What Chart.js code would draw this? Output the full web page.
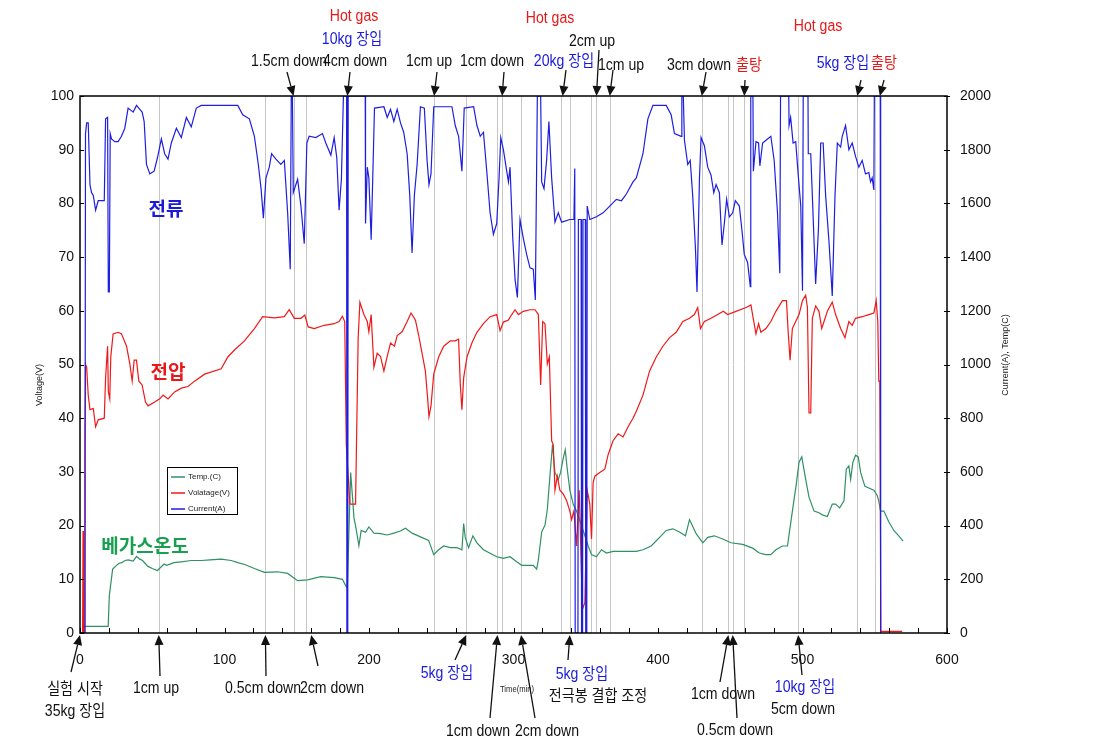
<!DOCTYPE html>
<html>
<head>
<meta charset="utf-8">
<script src="https://cdn.jsdelivr.net/npm/chart.js@4.4.1/dist/chart.umd.min.js"></script>
<style>
  html, body { margin: 0; padding: 0; background: #fff; }
  #wrap { width: 1107px; height: 753px; position: relative; }
</style>
</head>
<body>
<div id="wrap"><canvas id="chart-lines"></canvas></div>
<script>
// series: time in minutes

var currentTime = [0, 3.4, 3.8, 4.6, 5.7, 6.9, 8, 9.2, 10.8, 12.6, 16.8, 17.7, 19.1, 19.6, 20.3, 20.9, 21.8, 24.1, 26.4, 28.7, 31, 33.3, 36.8, 39.1, 41.4, 43, 44.4, 46, 48.3, 51.3, 53.6, 56.3, 58.6, 60.9, 63.2, 66.7, 70.1, 73.6, 77, 80.5, 83.9, 109.2, 112.6, 117.2, 120.7, 123.4, 125.3, 126.9, 128.7, 131, 132.6, 135.6, 139, 141.4, 143.7, 145.5, 146.2, 147, 147.6, 150.6, 152.9, 155.2, 157, 158.6, 163.2, 167.8, 170.1, 173.6, 175.9, 177.7, 179.3, 180.9, 182.3, 184.5, 184.7, 185, 185.3, 185.6, 197.4, 197.6, 198.8, 199.9, 201.5, 202.9, 203.8, 210.3, 212.6, 214.9, 217.2, 219.5, 221.8, 224, 226.4, 228.2, 229.8, 231.4, 233.3, 235.6, 238.3, 240.2, 241.5, 242.9, 244.8, 257.4, 259.7, 262, 264.3, 265.9, 272.4, 274.7, 277, 279.2, 281.5, 283.8, 286.1, 288.4, 290, 291.2, 293, 295.3, 296.5, 297.6, 299.5, 301.1, 302.7, 304.5, 306.8, 309.1, 311.4, 313.7, 315.1, 316.5, 318.8, 319.5, 321.1, 322.9, 324.5, 326.4, 328.7, 331, 333.3, 339, 341.8, 342.4, 342.7, 344.6, 344.9, 346.8, 347.1, 347.8, 348.1, 349.7, 350, 350.7, 351, 352.8, 357.4, 362, 366.6, 371.2, 374.7, 378.1, 382.7, 385, 389.6, 393, 396.5, 405.7, 409.1, 411.4, 416, 416.5, 417.5, 418.3, 420.6, 422.3, 424, 425.9, 427, 428.7, 429.8, 432.1, 434.4, 436.7, 438.6, 440.2, 442.5, 444.3, 445.9, 447.5, 449.4, 451.7, 453.5, 456.3, 458.1, 459.7, 462, 463.9, 464.2, 465.7, 466, 467.8, 469.6, 470.5, 472.4, 475.8, 478.1, 480.4, 482.7, 484.3, 484.8, 490.5, 490.7, 491.8, 493.5, 495.3, 497.2, 498.8, 500, 500.5, 503.8, 504, 505.7, 506.8, 509.1, 511, 512.6, 514.3, 516, 518.3, 520.6, 522.5, 524.1, 526.4, 527.5, 529.8, 532.1, 534.4, 536.7, 539, 541.3, 543.6, 545.9, 547.1, 548.2, 549.4, 549.7, 553.8, 554.1];
var currentAmp = [0, 0, 1860, 1900, 1900, 1670, 1640, 1630, 1575, 1610, 1610, 1915, 1920, 1270, 1270, 1860, 1840, 1830, 1830, 1850, 1880, 1955, 1940, 1965, 1950, 1940, 1905, 1745, 1710, 1720, 1770, 1840, 1785, 1765, 1825, 1880, 1845, 1920, 1885, 1955, 1965, 1965, 1930, 1915, 1850, 1745, 1655, 1545, 1695, 1735, 1785, 1765, 1745, 1760, 1565, 1355, 2000, 2000, 1640, 1690, 1590, 1450, 1825, 1850, 1845, 1860, 1825, 1780, 1845, 1770, 1575, 1690, 2000, 2000, 0, 2000, 0, 2000, 2000, 1525, 1735, 1695, 1465, 1760, 1955, 1960, 1920, 1950, 1905, 1950, 1900, 1865, 1785, 1630, 1415, 1630, 1745, 1960, 1955, 1760, 1670, 1710, 1960, 1960, 1890, 1850, 1720, 1955, 1960, 1890, 1850, 1865, 1720, 1565, 1485, 1525, 1695, 1845, 1800, 1720, 1680, 1735, 1470, 1315, 1250, 1540, 1470, 1410, 1360, 1355, 1240, 2000, 2000, 1680, 1655, 1760, 1905, 1695, 1530, 1565, 1530, 1540, 1540, 1730, 0, 0, 1540, 1540, 0, 0, 1540, 1540, 0, 0, 1590, 1540, 1550, 1565, 1590, 1615, 1610, 1635, 1680, 1695, 1785, 1915, 1965, 1965, 1930, 1860, 1850, 2000, 2000, 1835, 1745, 1760, 1630, 1435, 1270, 1695, 1845, 1815, 1735, 1705, 1640, 1670, 1640, 1445, 1525, 1615, 1550, 1565, 1610, 1590, 1500, 1410, 1380, 1290, 2000, 2000, 1720, 1830, 1825, 1740, 1825, 1840, 1850, 1760, 1565, 1340, 2000, 2000, 1890, 1920, 1825, 1830, 1695, 1590, 1275, 2000, 2000, 1785, 1785, 1630, 1300, 1500, 1825, 1825, 1630, 1460, 1255, 1630, 1825, 1810, 1850, 1890, 1800, 1825, 1775, 1735, 1760, 1710, 1715, 1680, 1695, 1650, 2000, 2000, 0];

var voltTime = [0, 1.8, 2.1, 2.4, 3, 3.4, 3.8, 4.6, 5.7, 6.9, 9.2, 10.8, 12.6, 16.8, 17.7, 19.1, 19.6, 20.6, 21.3, 22.9, 26.4, 28.7, 32.2, 34.5, 36.1, 37.5, 39.1, 40.7, 43, 45.3, 47.1, 51.7, 55.2, 57.5, 60.9, 65.5, 70.1, 74.7, 79.3, 86.2, 97.7, 102.3, 106.9, 113.8, 120.7, 126.4, 134.5, 141.4, 144.8, 148.3, 152.9, 155.6, 157.9, 162.1, 169, 175.9, 179.3, 181.6, 183.2, 184.3, 186.8, 190.7, 192.5, 193.7, 196.5, 198.8, 199.9, 201.5, 203.4, 205.7, 208, 210.3, 212.6, 214.9, 217.6, 219.5, 222.9, 226.4, 229.1, 232.1, 234.4, 236.7, 239, 240.6, 241.5, 242.9, 244.8, 248.2, 251.7, 256.3, 259.7, 262, 263.2, 264.3, 265.5, 267.8, 271.2, 274.7, 279.2, 283.8, 288.4, 290.7, 293, 296.5, 298.8, 301.1, 303.4, 306.8, 311.4, 314.9, 317.2, 318.8, 320.2, 321.8, 323.4, 324.8, 326.4, 327.5, 328.7, 330.3, 332.1, 334.4, 336.7, 339, 340.2, 341.8, 343.6, 345.5, 347.7, 349.4, 351, 352.8, 354, 355.1, 356.3, 359.7, 363.2, 365.5, 368.9, 372.4, 375.8, 379.3, 382.7, 385, 389.6, 394.2, 398.8, 403.4, 408, 412.6, 417.2, 421.8, 425.2, 427.5, 429.4, 432.1, 436.7, 441.3, 445.2, 448.2, 454, 460.9, 464.3, 465.9, 467.8, 469.6, 471.2, 474.7, 478.1, 481.6, 486.1, 488.9, 490.1, 491.4, 493, 495.3, 497.6, 500, 502.2, 503.4, 504.5, 505.7, 506.8, 509.1, 511.4, 513.3, 514.9, 517.2, 520.6, 522.9, 526.4, 529.4, 532.1, 534.4, 536.7, 541.3, 545.9, 549.4, 551, 552.1, 552.8, 553.5, 554.2, 569];
var voltValue = [0, 0, 19, 0, 0, 35, 50, 49.5, 44.3, 41.6, 41.8, 38.4, 39.7, 40, 47.5, 53.4, 45, 43.6, 51.4, 55.7, 56, 55.7, 53.4, 50.1, 46.9, 50.8, 50.8, 46.9, 46.2, 43, 42.3, 43, 43.6, 44.3, 43.6, 44.9, 45.6, 45.9, 46.9, 48.2, 49.2, 51.4, 52.7, 54.4, 56.7, 58.9, 58.7, 58.9, 60.2, 58.6, 58.6, 59.2, 57, 56.7, 57.3, 57.6, 58, 59, 58, 35, 24, 24, 55, 61.6, 59.3, 58, 56.1, 59.3, 49.5, 52.1, 51.5, 48.8, 51.5, 54, 53.4, 55.4, 56.1, 58, 59.6, 58.3, 55.4, 52.1, 48.8, 43.6, 40.3, 42.3, 48.2, 51.4, 53.4, 54.4, 54.4, 54.7, 46.2, 41.6, 47.5, 51.4, 54, 56, 57.6, 58.9, 59.3, 56.3, 57.9, 58.3, 59.3, 60.2, 59.3, 59.9, 60.2, 60.2, 59.3, 46.2, 58, 57.6, 50.1, 51.4, 35.8, 35.1, 26.6, 29.2, 26.6, 25.9, 24.7, 22.7, 21.1, 22.7, 16.2, 26.6, 4.4, 5.7, 26.6, 24, 17.5, 28, 29.2, 29.9, 30.5, 33.2, 35.8, 37.1, 36.5, 38.4, 40, 41.3, 44.3, 48.8, 51.4, 53.4, 55, 56, 58, 58.6, 59.3, 60.6, 56.7, 58, 58.6, 59.3, 59.9, 59.3, 59.9, 60.6, 61.1, 58.6, 55.7, 57.6, 56, 56.7, 58, 59.9, 61.9, 61.9, 56, 50.8, 56.7, 58, 59.3, 61.9, 62.9, 60.6, 41, 41, 58.6, 60.9, 59.9, 56.7, 58, 59.9, 61.6, 59.3, 56.7, 55, 58, 57.3, 58.6, 58.9, 59.3, 59.6, 61.9, 58, 46.9, 46.9, 0.3, 0.3];

var tempTime = [0, 2, 2.3, 19.5, 20.3, 22.6, 24.9, 27, 29, 31.2, 33.3, 36.8, 39.1, 41.4, 43.3, 47, 50, 53.6, 58.2, 60, 65, 70, 77, 84, 90, 97.7, 104.6, 109.2, 114, 120.7, 127.6, 136.8, 143.7, 150.6, 157.5, 166.7, 175.9, 181.6, 184, 185, 187.3, 188.4, 189.6, 190.7, 193, 194.6, 197.6, 199.9, 203.4, 208, 212.6, 217.2, 221.8, 225.2, 229.8, 235.6, 241.3, 244.8, 248.2, 251.7, 256.3, 260.9, 264.3, 265.5, 266.6, 268.9, 271.9, 274.7, 279.2, 283.8, 288.4, 293, 297.6, 302.2, 305.7, 310.3, 313.7, 316, 317.2, 319.5, 321.8, 323.4, 325.2, 327, 328.7, 331, 332.6, 334.4, 335.8, 337.2, 339, 341.3, 343.6, 347, 349.4, 351.7, 354, 357.4, 360.9, 364.3, 368.9, 375.8, 385, 389.6, 395.3, 401.1, 405.7, 410.3, 414.9, 419, 421.8, 423.6, 426.4, 431, 434.4, 439, 444.8, 450.5, 458.6, 465.5, 470.1, 474.7, 478.1, 481.6, 486.1, 489.6, 493, 495.8, 497.6, 499.5, 502.2, 504.5, 508, 511.4, 513.7, 517.2, 520.6, 522.9, 525.7, 528.7, 530.3, 532.1, 533.3, 534.9, 536.7, 538.6, 540.2, 543.2, 545.9, 549.4, 551.7, 552.8, 554, 556.3, 559.7, 563.2, 566.6, 569.6];
var tempValue = [0, 0, 25, 25, 140, 238, 250, 260, 262, 270, 272, 268, 285, 275, 270, 248, 240, 233, 257, 252, 262, 265, 270, 270, 272, 275, 270, 262, 255, 240, 226, 228, 222, 195, 198, 210, 206, 200, 175, 170, 598, 520, 428, 400, 325, 382, 375, 395, 372, 370, 365, 372, 380, 390, 372, 358, 345, 292, 310, 324, 318, 318, 310, 408, 356, 318, 362, 336, 310, 297, 284, 278, 284, 265, 252, 252, 252, 238, 272, 376, 402, 460, 584, 702, 598, 572, 598, 650, 682, 610, 532, 480, 454, 402, 362, 324, 292, 284, 310, 298, 304, 304, 304, 310, 324, 356, 382, 388, 376, 362, 422, 402, 370, 336, 356, 362, 350, 336, 330, 316, 298, 292, 292, 310, 324, 324, 454, 558, 636, 656, 572, 506, 454, 448, 440, 434, 480, 480, 466, 492, 610, 622, 572, 636, 662, 656, 598, 546, 540, 532, 512, 492, 454, 454, 414, 382, 362, 342];

// grey marker lines for the operating events
var eventTimes = [54.5, 128.3, 147.8, 156.3, 244.8, 267.3, 288.9, 292.1, 305.2, 332.6, 339, 353.3, 357.4, 366.6, 430.3, 448.7, 451.7, 459.7, 497, 537.9, 550];

// arrow notes: t = where the arrow hits the axis
var topNotes = [
  { t: 147.8, from: [287, 72], lines: [["1.5cm down", "#111", 289, 66]] },
  { t: 185, from: [350, 72], lines: [["4cm down", "#111", 355, 66], ["10kg 장입", "#1a1ad8", 352, 44], ["Hot gas", "#e81818", 354, 21]] },
  { t: 245, from: [437, 72], lines: [["1cm up", "#111", 429, 66]] },
  { t: 292.1, from: [504, 72], lines: [["1cm down", "#111", 492, 66]] },
  { t: 334, from: [566, 70], lines: [["20kg 장입", "#1a1ad8", 564, 66], ["Hot gas", "#e81818", 550, 23]] },
  { t: 357.4, from: [599, 50], lines: [["2cm up", "#111", 592, 46]] },
  { t: 366.6, from: [613, 70], lines: [["1cm up", "#111", 621, 70]] },
  { t: 430.3, from: [706, 72], lines: [["3cm down", "#111", 699, 70]] },
  { t: 459.7, from: [745, 80], lines: [["출탕", "#e81818", 749, 70]] },
  { t: 537.9, from: [861, 80], lines: [["5kg 장입", "#1a1ad8", 843, 68], ["Hot gas", "#e81818", 818, 31]] },
  { t: 553.5, from: [884, 80], lines: [["출탕", "#e81818", 884, 68]] }
];
var bottomNotes = [
  { t: 0, from: [71, 672], lines: [["실험 시작", "#111", 75, 694], ["35kg 장입", "#111", 75, 716]] },
  { t: 54.5, from: [160, 676], lines: [["1cm up", "#111", 156, 693]] },
  { t: 128.3, from: [266, 676], lines: [["0.5cm down", "#111", 263, 693]] },
  { t: 160, from: [318, 666], lines: [["2cm down", "#111", 332, 693]] },
  { t: 267.3, from: [455, 660], lines: [["5kg 장입", "#1a1ad8", 447, 678]] },
  { t: 288.9, from: [490, 718], lines: [["1cm down", "#111", 478, 736]] },
  { t: 305.2, from: [535, 718], lines: [["2cm down", "#111", 547, 736]] },
  { t: 339, from: [568, 660], lines: [["5kg 장입", "#1a1ad8", 582, 679], ["전극봉 결합 조정", "#111", 598, 701]] },
  { t: 448.7, from: [720, 682], lines: [["1cm down", "#111", 723, 699]] },
  { t: 451.7, from: [737, 718], lines: [["0.5cm down", "#111", 735, 735]] },
  { t: 497, from: [802, 675], lines: [["10kg 장입", "#1a1ad8", 805, 692], ["5cm down", "#111", 803, 714]] }
];

var seriesLabels = [
  ["전류", "#1a1ad8", 166, 209],
  ["전압", "#e81818", 168, 372],
  ["베가스온도", "#18a050", 145, 546]
];

function pts(xs, ys) {
  return xs.map(function (t, i) { return { x: t, y: ys[i] }; });
}

var FONT = '"Liberation Sans", "Noto Sans CJK KR", sans-serif';

// the original uses a narrow face; squeeze the text horizontally
function narrowText(ctx, s, x, y, sx) {
  ctx.save();
  ctx.translate(x, y);
  ctx.scale(sx, 1);
  ctx.fillText(s, 0, 0);
  ctx.restore();
}

function arrow(ctx, x0, y0, x1, y1) {
  var a = Math.atan2(y1 - y0, x1 - x0);
  var hl = 10, hw = 4.5;
  var bx = x1 - hl * Math.cos(a), by = y1 - hl * Math.sin(a);
  ctx.beginPath();
  ctx.moveTo(x0, y0);
  ctx.lineTo(bx, by);
  ctx.stroke();
  ctx.beginPath();
  ctx.moveTo(x1, y1);
  ctx.lineTo(bx + hw * Math.sin(a), by - hw * Math.cos(a));
  ctx.lineTo(bx - hw * Math.sin(a), by + hw * Math.cos(a));
  ctx.closePath();
  ctx.fill();
}

var overlay = {
  id: "overlay",
  beforeDatasetsDraw: function (chart) {
    var ctx = chart.ctx, a = chart.chartArea, x = chart.scales.x;
    ctx.save();
    ctx.strokeStyle = "#c6c6c6";
    ctx.lineWidth = 1;
    eventTimes.forEach(function (t) {
      var px = Math.round(x.getPixelForValue(t)) + 0.5;
      ctx.beginPath();
      ctx.moveTo(px, a.top);
      ctx.lineTo(px, a.bottom);
      ctx.stroke();
    });
    ctx.restore();
  },
  afterDraw: function (chart) {
    var ctx = chart.ctx, a = chart.chartArea, x = chart.scales.x, y = chart.scales.y, y2 = chart.scales.y2;
    ctx.save();

    // frame and inner tick marks
    ctx.strokeStyle = "#000";
    ctx.lineWidth = 1.5;
    ctx.strokeRect(a.left, a.top, a.right - a.left, a.bottom - a.top);
    ctx.lineWidth = 1;
    ctx.beginPath();
    for (var t = 0; t <= 600; t += 20) {
      var px = Math.round(x.getPixelForValue(t)) + 0.5;
      ctx.moveTo(px, a.bottom);
      ctx.lineTo(px, a.bottom - 5);
    }
    for (var v = 0; v <= 100; v += 10) {
      var py = Math.round(y.getPixelForValue(v)) + 0.5;
      ctx.moveTo(a.left, py);
      ctx.lineTo(a.left + 4, py);
    }
    for (var c = 0; c <= 2000; c += 200) {
      var py2 = Math.round(y2.getPixelForValue(c)) + 0.5;
      ctx.moveTo(a.right - 3, py2);
      ctx.lineTo(a.right + 3, py2);
    }
    ctx.stroke();

    // axis titles
    ctx.fillStyle = "#222";
    ctx.font = "9px " + FONT;
    ctx.textAlign = "center";
    ctx.textBaseline = "middle";
    narrowText(ctx, "Time(min)", 517, 690, 0.85);
    ctx.save();
    ctx.translate(40, 385);
    ctx.rotate(-Math.PI / 2);
    ctx.fillText("Voltage(V)", 0, 0);
    ctx.restore();
    ctx.save();
    ctx.translate(1006, 355);
    ctx.rotate(-Math.PI / 2);
    ctx.fillText("Current(A), Temp(C)", 0, 0);
    ctx.restore();

    // legend box
    var lg = [["Temp.(C)", chart.data.datasets[2].borderColor],
              ["Volatage(V)", chart.data.datasets[1].borderColor],
              ["Current(A)", chart.data.datasets[0].borderColor]];
    ctx.fillStyle = "#fff";
    ctx.fillRect(167, 467, 71, 48);
    ctx.strokeStyle = "#000";
    ctx.lineWidth = 1;
    ctx.strokeRect(167.5, 467.5, 70, 47);
    ctx.font = "8px " + FONT;
    ctx.textAlign = "left";
    lg.forEach(function (it, i) {
      var ly = 477 + i * 16;
      ctx.strokeStyle = it[1];
      ctx.lineWidth = 1.5;
      ctx.beginPath();
      ctx.moveTo(171, ly);
      ctx.lineTo(185, ly);
      ctx.stroke();
      ctx.fillStyle = "#222";
      ctx.fillText(it[0], 188, ly);
    });

    // big series captions
    ctx.font = "bold 19px \"Noto Sans CJK KR\", sans-serif";
    ctx.textAlign = "center";
    seriesLabels.forEach(function (s) {
      ctx.fillStyle = s[1];
      ctx.fillText(s[0], s[2], s[3]);
    });

    // arrows and notes
    ctx.strokeStyle = "#111";
    ctx.fillStyle = "#111";
    ctx.lineWidth = 1.3;
    topNotes.forEach(function (n) {
      arrow(ctx, n.from[0], n.from[1], x.getPixelForValue(n.t), a.top);
    });
    bottomNotes.forEach(function (n) {
      arrow(ctx, n.from[0], n.from[1], x.getPixelForValue(n.t), a.bottom + 2);
    });
    ctx.font = "16px " + FONT;
    ctx.textBaseline = "alphabetic";
    topNotes.concat(bottomNotes).forEach(function (n) {
      n.lines.forEach(function (l) {
        ctx.fillStyle = l[1];
        narrowText(ctx, l[0], l[2], l[3], 0.88);
      });
    });
    ctx.restore();
  }
};

var ctx = document.getElementById("chart-lines").getContext("2d");

new Chart(ctx, {
  type: "line",
  data: {
    datasets: [
      {
        label: "Current(A)",
        data: pts(currentTime, currentAmp),
        yAxisID: "y2",
        borderColor: "#1e1ee0",
        borderWidth: 1.2,
        pointRadius: 0,
        tension: 0,
        order: 0,
      },
      {
        label: "Volatage(V)",
        data: pts(voltTime, voltValue),
        yAxisID: "y",
        borderColor: "#f01818",
        borderWidth: 1.2,
        pointRadius: 0,
        tension: 0,
        order: 1,
      },
      {
        label: "Temp.(C)",
        data: pts(tempTime, tempValue),
        yAxisID: "y2",
        borderColor: "#2f9066",
        borderWidth: 1.2,
        pointRadius: 0,
        tension: 0,
        order: 2,
      },
    ],
  },
  options: {
    responsive: true,
    maintainAspectRatio: false,
    animation: false,
    events: [],
    layout: { padding: { top: 96, left: 0, right: 0, bottom: 0 } },
    plugins: {
      legend: { display: false },
      tooltip: { enabled: false },
    },
    scales: {
      x: {
        type: "linear",
        min: 0,
        max: 600,
        afterFit: function (s) { s.height = 120; },
        grid: { display: false, drawTicks: false },
        border: { display: false },
        ticks: {
          stepSize: 20,
          padding: 19,
          maxRotation: 0,
          autoSkip: false,
          color: "#111",
          font: { size: 14, family: FONT },
          callback: function (v) { return v % 100 === 0 ? String(v) : ""; },
        },
      },
      y: {
        position: "left",
        min: 0,
        max: 100,
        afterFit: function (s) { s.width = 80; },
        grid: { display: false, drawTicks: false },
        border: { display: false },
        ticks: {
          stepSize: 10,
          padding: 6,
          color: "#111",
          font: { size: 14, family: FONT },
          callback: function (v) { return String(v); },
        },
      },
      y2: {
        position: "right",
        min: 0,
        max: 2000,
        afterFit: function (s) { s.width = 160; },
        grid: { display: false, drawTicks: false },
        border: { display: false },
        ticks: {
          stepSize: 200,
          padding: 13,
          color: "#111",
          font: { size: 14, family: FONT },
          callback: function (v) { return String(v); },
        },
      },
    },
  },
  plugins: [overlay],
});
</script>
</body>
</html>
